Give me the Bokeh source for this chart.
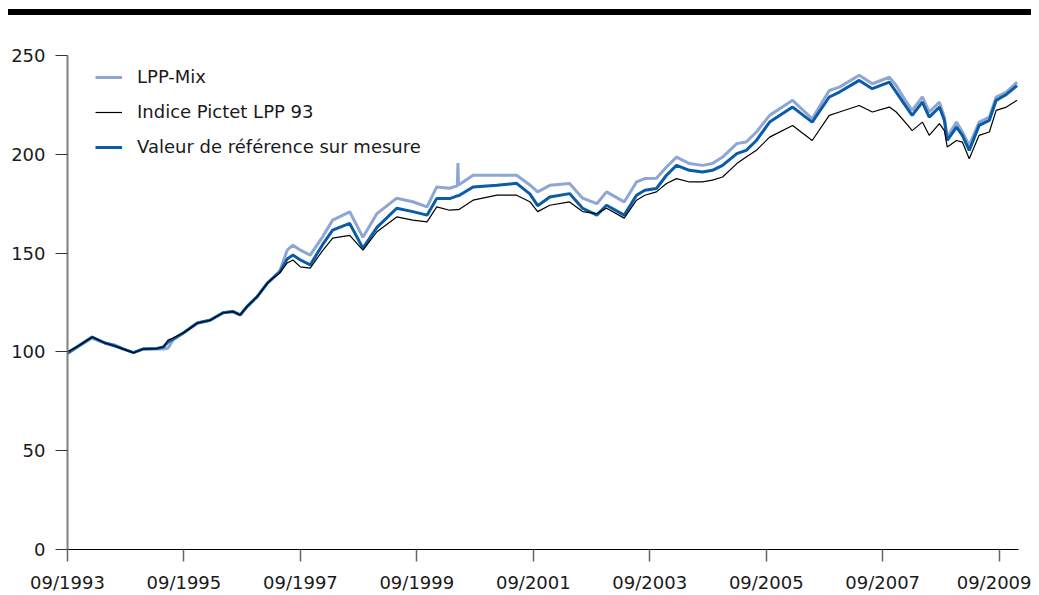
from datetime import datetime
import pandas as pd
from bokeh.plotting import figure
from bokeh.models import (Range1d, FixedTicker, DatetimeTickFormatter, Legend,
                          LegendItem, ColumnDataSource, Div)
from bokeh.layouts import column
from bokeh.embed import file_html
from bokeh.resources import INLINE

dates = ["1993-09-01", "1993-11-03", "1994-02-03", "1994-04-24", "1994-06-26",
         "1994-08-15", "1994-10-20", "1994-12-20", "1995-03-15", "1995-04-25",
         "1995-05-25", "1995-06-25", "1995-08-28", "1995-11-25", "1996-02-12",
         "1996-05-04", "1996-07-06", "1996-08-19", "1996-10-01", "1996-12-04",
         "1997-02-06", "1997-03-13", "1997-04-25", "1997-06-10", "1997-07-16",
         "1997-09-01", "1997-11-01", "1998-01-16", "1998-03-22", "1998-07-07",
         "1998-09-28", "1998-12-25", "1999-04-28", "1999-08-07", "1999-11-04",
         "2000-01-04", "2000-03-25", "2000-05-12", "2000-05-16", "2000-05-20",
         "2000-08-19", "2001-01-16", "2001-05-19", "2001-08-10", "2001-09-28",
         "2001-12-13", "2002-04-16", "2002-07-07", "2002-10-04", "2002-12-04",
         "2003-03-25", "2003-06-10", "2003-08-01", "2003-10-13", "2003-12-15",
         "2004-02-16", "2004-05-07", "2004-07-28", "2004-09-28", "2004-12-01",
         "2005-02-28", "2005-04-28", "2005-07-01", "2005-09-22",
         "2006-02-13", "2006-06-16", "2006-10-01", "2006-12-04", "2007-04-07",
         "2007-06-28", "2007-10-13", "2007-11-25", "2008-01-28", "2008-03-04",
         "2008-05-07", "2008-06-19", "2008-08-22", "2008-09-22", "2008-10-10",
         "2008-12-07", "2009-01-13", "2009-02-25", "2009-04-28", "2009-07-01",
         "2009-08-13", "2009-10-16", "2009-12-22"]

lpp_mix = [99.0, 102.5, 107.0, 104.5, 103.5,
           101.5, 99.6, 101.5, 101.5, 101.5,
           102.0, 106.0, 109.6, 114.6, 116.0,
           119.8, 120.4, 118.7, 122.9, 128.0,
           134.8, 137.4, 141.0, 151.5, 154.0,
           151.5, 149.0, 158.0, 166.7, 170.9,
           158.0, 170.0, 177.8, 176.0, 173.4,
           183.5, 182.8, 184.0, 195.6, 184.5,
           189.4, 189.4, 189.4, 184.5, 181.0,
           184.3, 185.2, 177.8, 175.0, 181.0,
           175.9, 186.0, 187.7, 187.9, 193.6,
           198.6, 195.3, 194.4, 195.3, 198.6,
           205.4, 206.2, 211.3, 219.7,
           227.3, 218.0, 232.3, 234.0, 240.0,
           235.7, 239.0, 234.8, 226.4, 222.2,
           229.0, 221.4, 226.4, 218.8, 208.7,
           216.3, 211.3, 204.5, 216.3, 218.8,
           229.0, 231.5, 236.5]

pictet_lpp93 = [100.0, 102.7, 107.5, 104.5, 103.0,
                101.5, 99.6, 101.5, 101.7, 102.5,
                106.0, 107.0, 109.6, 114.6, 116.0,
                119.8, 120.4, 118.7, 122.9, 128.0,
                134.8, 137.4, 140.0, 145.0, 146.5,
                143.0, 142.4, 151.0, 157.6, 159.0,
                151.5, 160.8, 168.3, 166.7, 165.8,
                173.4, 171.7, 172.0, 172.0, 172.0,
                176.8, 179.3, 179.3, 176.0, 171.0,
                174.2, 175.9, 171.0, 170.0, 172.7,
                167.7, 176.8, 179.3, 181.0, 185.2,
                187.7, 186.0, 186.0, 186.9, 188.5,
                195.3, 198.6, 202.0, 208.7,
                214.6, 207.0, 219.7, 221.4, 224.7,
                221.4, 223.9, 221.4, 215.5, 212.0,
                216.3, 209.6, 215.5, 212.0, 203.7,
                207.0, 206.2, 197.8, 209.6, 211.3,
                222.2, 223.9, 227.3]

ref_mesure = [99.5, 102.7, 107.5, 104.5, 103.0,
              101.5, 99.6, 101.5, 101.7, 102.5,
              105.0, 106.5, 109.6, 114.6, 116.0,
              119.8, 120.4, 118.7, 122.9, 128.0,
              134.8, 137.4, 140.5, 147.0, 149.0,
              146.5, 144.0, 154.0, 161.6, 165.0,
              152.5, 163.0, 172.7, 171.0, 169.2,
              177.6, 177.6, 179.0, 179.0, 179.0,
              183.5, 184.3, 185.3, 180.0, 174.0,
              178.4, 180.1, 172.7, 169.2, 174.2,
              169.2, 179.3, 181.8, 182.7, 189.4,
              194.4, 191.9, 191.0, 191.9, 194.4,
              200.3, 202.0, 207.0, 216.3,
              223.9, 216.3, 229.0, 231.5, 237.4,
              233.2, 236.5, 231.5, 223.9, 219.7,
              226.4, 218.8, 223.9, 217.2, 207.0,
              213.8, 209.6, 202.0, 214.6, 217.2,
              227.3, 230.3, 234.8]

y_ticks = [0, 50, 100, 150, 200, 250]
x_tick_dates = ["1993-09-01", "1995-09-01", "1997-09-01", "1999-09-01",
                "2001-09-01", "2003-09-01", "2005-09-01", "2007-09-01",
                "2009-09-01"]
labels = ["LPP-Mix", "Indice Pictet LPP 93", "Valeur de référence sur mesure"]

FONT = "DejaVu Sans"
TXT = "#1a1a1a"

src = ColumnDataSource(dict(d=pd.to_datetime(dates), mix=lpp_mix,
                            pic=pictet_lpp93, ref=ref_mesure))

p = figure(width=1023, height=580, x_axis_type="datetime",
           output_backend="svg", toolbar_location=None,
           x_range=Range1d(datetime(1993, 9, 1), datetime(2009, 12, 31)),
           y_range=Range1d(0, 250),
           min_border_left=59, min_border_right=13, min_border_top=40,
           min_border_bottom=45, margin=(0, 0, 0, 8))
p.outline_line_color = None
p.grid.visible = False
p.background_fill_color = "white"

r_mix = p.line("d", "mix", source=src, line_color="#8DA6D3", line_width=3)
r_ref = p.line("d", "ref", source=src, line_color="#0A5CA8", line_width=3)
r_pic = p.line("d", "pic", source=src, line_color="black", line_width=1.2)

legend = Legend(items=[LegendItem(label=labels[0], renderers=[r_mix]),
                       LegendItem(label=labels[1], renderers=[r_pic]),
                       LegendItem(label=labels[2], renderers=[r_ref])],
                location=(28, 392), padding=0, margin=0, spacing=14,
                glyph_width=27, glyph_height=20, label_height=20,
                label_standoff=15, border_line_color=None,
                background_fill_alpha=0,
                label_text_font=FONT, label_text_font_size="18px",
                label_text_color=TXT)
p.add_layout(legend)

xa = p.xaxis[0]
xa.ticker = FixedTicker(ticks=[pd.Timestamp(d).value / 1e6 for d in x_tick_dates])
fmt = "%m/%Y"
xa.formatter = DatetimeTickFormatter(years=fmt, months=fmt, days=fmt, hours=fmt,
                                     minutes=fmt, seconds=fmt, milliseconds=fmt,
                                     microseconds=fmt, hourmin=fmt, minsec=fmt)
xa.axis_line_color = "black"
xa.axis_line_width = 1
xa.major_tick_line_color = "#666666"
xa.major_tick_line_width = 1.5
xa.major_tick_out = 12
xa.major_tick_in = 0
xa.minor_tick_line_color = None
xa.major_label_standoff = 10
xa.major_label_text_font = FONT
xa.major_label_text_font_size = "18px"
xa.major_label_text_color = TXT

ya = p.yaxis[0]
ya.ticker = FixedTicker(ticks=y_ticks)
ya.axis_line_color = "#808080"
ya.axis_line_width = 2
ya.major_tick_line_color = "#333333"
ya.major_tick_line_width = 1
ya.major_tick_out = 12
ya.major_tick_in = 0
ya.minor_tick_line_color = None
ya.major_label_standoff = 10
ya.major_label_text_font = FONT
ya.major_label_text_font_size = "18px"
ya.major_label_text_color = TXT

bar = Div(text="", width=1023, height=6, margin=(9, 0, 0, 8),
          styles={"background-color": "black"})

layout = column(bar, p, spacing=0)
open("out.html", "w").write(file_html(layout, INLINE))
